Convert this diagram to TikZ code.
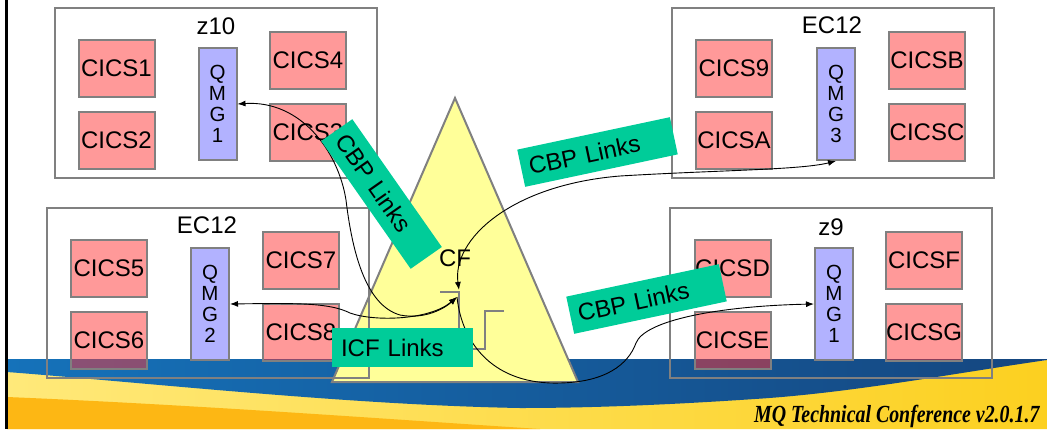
\documentclass[tikz,border=0pt]{standalone}
\usepackage{fontspec}
\setmainfont{Liberation Sans}
\newfontfamily\footfont{Liberation Serif}
\usepackage{tikz}
\usetikzlibrary{positioning,arrows.meta}
\definecolor{cicsRed}{HTML}{FF3333}
\definecolor{qmgBlue}{HTML}{6666FF}
\definecolor{cfYellow}{HTML}{FFFF99}
\definecolor{linkGreen}{HTML}{00CC99}
\definecolor{frameGray}{HTML}{808080}
\definecolor{bandBlue}{HTML}{1572BA}
\definecolor{bandDark}{HTML}{15467F}
\definecolor{swooshLight}{HTML}{FFE97A}
\definecolor{swooshGold}{HTML}{FCD020}
\definecolor{swooshDeep}{HTML}{FDB714}

\begin{document}
\begin{tikzpicture}[x=1pt, y=-1pt,
    frame/.style={draw=frameGray, line width=2pt, minimum width=322pt, minimum height=170pt, inner sep=0pt},
    title/.style={font=\fontsize{24}{28}\selectfont},
    cics/.style={draw=frameGray, line width=2pt, fill=cicsRed, fill opacity=0.5, text opacity=1,
        minimum width=76pt, minimum height=57pt, inner sep=0pt, font=\fontsize{24}{28}\selectfont},
    qmg/.style={draw=frameGray, line width=2pt, fill=qmgBlue, fill opacity=0.5, text opacity=1,
        minimum width=38pt, minimum height=112pt, inner sep=0pt, align=center, font=\fontsize{20.5}{21}\selectfont},
    links/.style={fill=linkGreen, minimum height=38pt, text width=140pt, inner xsep=8pt, inner ysep=0pt,
        align=left, font=\fontsize{24}{28}\selectfont},
    trunk/.style={draw=frameGray, line width=2pt},
    link/.style={line width=0.9pt},
    >={Latex[length=8pt,width=6pt]}]
    \useasboundingbox (0,0) rectangle (1047,429);

    % Footer band
    \shade[left color=swooshLight, right color=swooshGold] (7,371) .. controls (150,380) and (350,402) .. (520,405)
        .. controls (600,405) and (680,401) .. (755,397) .. controls (850,390) and (950,372) .. (1047,360)
        -- (1047,429) -- (7,429) -- cycle;
    \fill[swooshDeep] (7,397) .. controls (200,405) and (400,420) .. (540,429) -- (7,429) -- cycle;
    \shade[left color=bandBlue, right color=bandDark] (7,359) -- (1047,359) -- (1047,360)
        .. controls (950,374) and (850,393) .. (755,399) .. controls (680,404) and (600,408) .. (520,408)
        .. controls (350,405) and (150,383) .. (7,372) -- cycle;
    \draw[line width=2.5pt] (6.5,0) -- (6.5,429);

    % Coupling facility
    \draw[fill=cfYellow, draw=frameGray, line width=2pt] (455,98) -- (578,382) -- (332,382) -- cycle;
    \node[title] (cf) at (455,258) {CF};
    \coordinate (cfin) at (457,297);
    \coordinate (cfout) at (459,290);

    % Machines
    \node[frame] (z10frame) at (215.5,92.5) {};
    \node[title] (z10title) at (216,26) {z10};
    \node[cics] (cics1) at (116.5,68) {CICS1};
    \node[cics] (cics2) at (116.5,140) {CICS2};
    \node[qmg] (qmgA) at (217.5,104) {Q\\M\\G\\1};
    \node[cics] (cics4) at (308,60.5) {CICS4};
    \node[cics] (cics3) at (308,132) {CICS3};

    \node[frame] (ecrframe) at (832.5,93) {};
    \node[title] (ecrtitle) at (832,25) {EC12};
    \node[cics] (cics9) at (734,68.5) {CICS9};
    \node[cics] (cicsa) at (734,140) {CICSA};
    \node[qmg] (qmgC) at (836,104) {Q\\M\\G\\3};
    \node[cics] (cicsb) at (927,60.5) {CICSB};
    \node[cics] (cicsc) at (927,132) {CICSC};

    \node[frame] (eclframe) at (207.5,293) {};
    \node[title] (ecltitle) at (207,225) {EC12};
    \node[cics] (cics5) at (109,268.5) {CICS5};
    \node[cics] (cics6) at (109,340) {CICS6};
    \node[qmg] (qmgB) at (210,304) {Q\\M\\G\\2};
    \node[cics] (cics7) at (301,260.5) {CICS7};
    \node[cics] (cics8) at (301,332) {CICS8};

    \node[frame] (z9frame) at (831,292.5) {};
    \node[title] (z9title) at (831,227) {z9};
    \node[cics] (cicsd) at (732.5,268.5) {CICSD};
    \node[cics] (cicse) at (732.5,340) {CICSE};
    \node[qmg] (qmgD) at (834,304) {Q\\M\\G\\1};
    \node[cics] (cicsf) at (924,260.5) {CICSF};
    \node[cics] (cicsg) at (924,332) {CICSG};

    % ICF link stubs
    \draw[trunk] (440,292) -- (459,292) -- (459,330);
    \draw[trunk] (504,311) -- (485,311) -- (485,349) -- (473,349);

    % Links to the CF
    \draw[link, <->] (qmgA.east) .. controls (300,100) and (338,150) .. (346,200)
        .. controls (352,250) and (365,305) .. (400,315) .. controls (425,320) and (445,308) .. (cfin);
    \draw[link, <->] (qmgB.east) .. controls (300,303) and (330,303) .. (350,313)
        .. controls (375,322) and (430,320) .. (cfin);
    \draw[link, <->] (cfout) .. controls (452,240) and (510,185) .. (620,176)
        .. controls (720,170) and (800,170) .. (qmgC.south);
    \draw[link, ->] (cfin) .. controls (462,345) and (495,385) .. (560,383)
        .. controls (605,382) and (628,365) .. (636,343) .. controls (645,320) and (720,306) .. (qmgD.west);

    % Labels
    \node[links, rotate=-55] (cbpa) at (381.5,194) {CBP Links};
    \node[links, rotate=12] (cbpb) at (597.5,152) {CBP Links};
    \node[links, rotate=12] (cbpc) at (646.5,299) {CBP Links};
    \node[links, text width=123pt, inner xsep=9pt, minimum height=39pt] (icf) at (402.5,347.5) {ICF Links};

    \node[anchor=base east, font=\footfont\bfseries\itshape\fontsize{20.5}{24}\selectfont] (conf) at (1043,422) {\scalebox{0.97}[1.2]{MQ Technical Conference v2.0.1.7}};
\end{tikzpicture}
\end{document}
